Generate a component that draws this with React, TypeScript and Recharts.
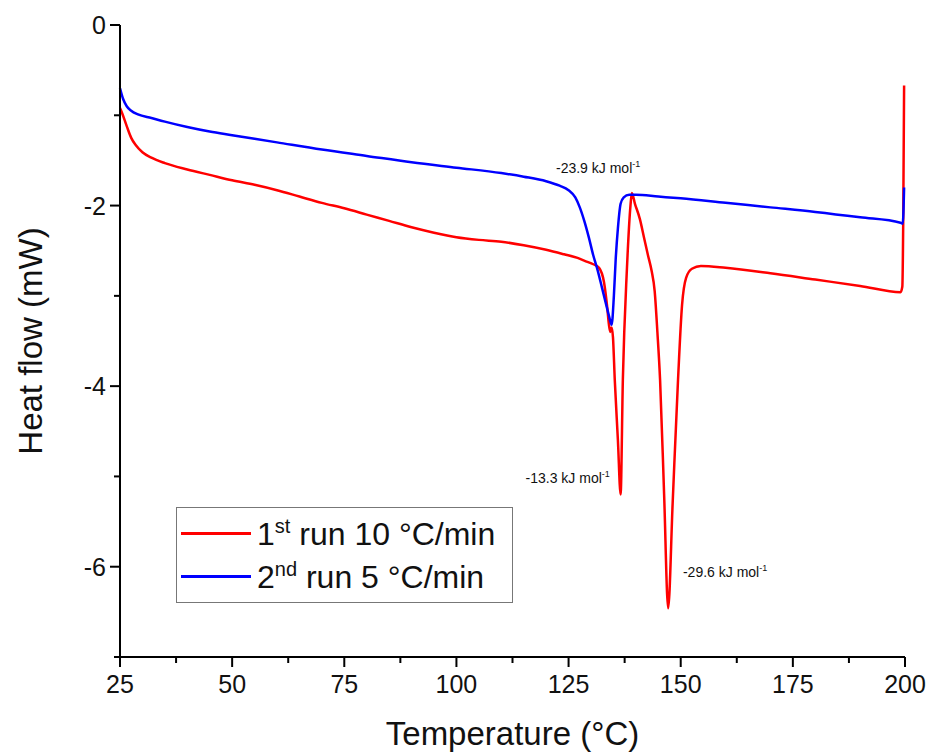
import { LineChart, Line, XAxis, YAxis, Legend, ReferenceDot } from 'recharts';

// 1st run, 10 °C/min
const redT = [
  25, 25.5, 26.5, 27.5, 28.5, 30, 32, 35, 40, 45, 50, 55, 60, 65, 70, 75, 80, 85, 90, 95,
  100, 105, 110, 115, 120, 124, 127, 129, 130.5, 131.8, 132.9, 133.6, 134.0, 134.3, 134.6, 134.9,
  135.3, 136.0, 136.6, 137.1, 138.0, 138.8, 139.1, 139.8, 140.9, 141.8, 142.7, 143.5, 144.2, 144.8,
  145.4, 146.3, 147.2, 148.2, 149.4, 150.3, 151.2, 152.5, 154.5, 160, 170, 180, 190, 199.0, 199.4,
  199.6, 199.8,
];
const redHF = [
  -0.92, -0.98, -1.12, -1.25, -1.33, -1.41, -1.47, -1.53, -1.6, -1.66, -1.72, -1.77, -1.83, -1.9, -1.97, -2.03, -2.1, -2.17, -2.24, -2.3,
  -2.35, -2.38, -2.4, -2.44, -2.49, -2.54, -2.58, -2.62, -2.65, -2.69, -2.85, -3.12, -3.32, -3.4, -3.35, -3.46,
  -3.93, -4.6, -5.2, -3.93, -2.71, -2.0, -1.86, -1.98, -2.15, -2.35, -2.55, -2.72, -2.95, -3.4,
  -3.93, -5.2, -6.46, -5.3, -3.93, -3.1, -2.8, -2.7, -2.67, -2.69, -2.75, -2.82, -2.89, -2.96, -2.9,
  -2.2, -0.67,
];

// 2nd run, 5 °C/min
const blueT = [
  25, 25.7, 26.5, 27.5, 29, 32, 35, 40, 45, 50, 60, 70, 80, 90, 100, 110, 115, 120, 123, 125,
  126.5, 127.5, 128.5, 129.5, 130.5, 131.5, 132.5, 133.3, 134.0, 134.6, 135.1, 135.5, 136.0, 136.6,
  137.3, 138.5, 140, 145, 150, 160, 170, 180, 190, 199.0, 199.5, 199.8,
];
const blueHF = [
  -0.7, -0.82, -0.9, -0.95, -0.99, -1.03, -1.07, -1.13, -1.18, -1.22, -1.3, -1.38, -1.45, -1.52, -1.58, -1.64, -1.68, -1.73, -1.78, -1.83,
  -1.91, -2.02, -2.17, -2.35, -2.55, -2.72, -2.92, -3.08, -3.22, -3.32, -3.0, -2.6, -2.25, -1.98,
  -1.91, -1.88, -1.88, -1.9, -1.92, -1.97, -2.02, -2.07, -2.13, -2.19, -2.2, -1.8,
];

const seriesNames = ['1st run 10 °C/min', '2nd run 5 °C/min'];

// enthalpy labels
const annT = [122.2, 134.2, 150.5];
const annHF = [-1.64, -5.07, -6.11];
const annText = ['-23.9 kJ mol', '-13.3 kJ mol', '-29.6 kJ mol'];
const annAnchor = ['start', 'end', 'start'];

const xTicks = [25, 37.5, 50, 62.5, 75, 87.5, 100, 112.5, 125, 137.5, 150, 162.5, 175, 187.5, 200];
const yTicks = [0, -1, -2, -3, -4, -5, -6, -7];

const redData = redT.map((t, i) => ({ t, hf: redHF[i] }));
const blueData = blueT.map((t, i) => ({ t, hf: blueHF[i] }));

const FONT = '"Liberation Sans", Arial, sans-serif';

function XTick(props: any) {
  const { x, y, payload } = props;
  const major = payload.value % 25 === 0;
  return (
    <g>
      <line x1={x} x2={x} y1={y} y2={y + (major ? 10 : 6)} stroke="#000" strokeWidth={2} />
      {major && (
        <text x={x} y={y + 36} textAnchor="middle" fontSize={25} fontFamily={FONT} fill="#111">
          {payload.value}
        </text>
      )}
    </g>
  );
}

function YTick(props: any) {
  const { x, y, payload } = props;
  const major = payload.value % 2 === 0;
  return (
    <g>
      <line x1={x} x2={x - (major ? 10 : 6)} y1={y} y2={y} stroke="#000" strokeWidth={2} />
      {major && (
        <text x={x - 14} y={y + 9} textAnchor="end" fontSize={25} fontFamily={FONT} fill="#111">
          {payload.value}
        </text>
      )}
    </g>
  );
}

function YTitle(props: any) {
  const vb = props.viewBox;
  const cx = vb.x + 30;
  const cy = vb.y + vb.height / 2;
  return (
    <text x={cx} y={cy} transform={`rotate(-90, ${cx}, ${cy})`} textAnchor="middle"
      dominantBaseline="central" fontSize={33} fontFamily={FONT} fill="#111">
      Heat flow (mW)
    </text>
  );
}

function AnnLabel(props: any) {
  const { viewBox, text, anchor } = props;
  return (
    <text x={viewBox.x} y={viewBox.y} textAnchor={anchor} fontSize={14} fontFamily={FONT} fill="#111">
      {text}
      <tspan dy={-6} fontSize={9}>-1</tspan>
    </text>
  );
}

function LegendBox(props: any) {
  const payload = props.payload || [];
  return (
    <div style={{ border: '1.5px solid #777', background: '#fff', padding: '4px 0', width: 335, fontFamily: FONT }}>
      {payload.map((p: any, i: number) => {
        const name = seriesNames[i];
        const head = name.slice(0, 1);
        const sup = i === 0 ? 'st' : 'nd';
        const rest = name.slice(3);
        return (
          <div key={i} style={{ display: 'flex', alignItems: 'center', height: 43 }}>
            <div style={{ width: 70, height: 3, background: p.color, marginLeft: 4, marginRight: 6 }} />
            <span style={{ fontSize: 32, color: '#111', whiteSpace: 'nowrap', lineHeight: '34px' }}>
              {head}
              <sup style={{ fontSize: 20, lineHeight: 0 }}>{sup}</sup>
              {rest}
            </span>
          </div>
        );
      })}
    </div>
  );
}

export default function App() {
  return (
    <div style={{ position: 'absolute', left: 0, top: 0, width: 930, height: 754, background: '#fff' }}>
      <LineChart width={930} height={754} margin={{ top: 25, right: 25, bottom: 0, left: 0 }}>
        <XAxis
          type="number"
          dataKey="t"
          domain={[25, 200]}
          ticks={xTicks}
          interval={0}
          height={97}
          tickSize={0}
          tickMargin={0}
          tickLine={false}
          tick={<XTick />}
          axisLine={{ stroke: '#000', strokeWidth: 2 }}
          allowDuplicatedCategory={false}
          label={{ value: 'Temperature (°C)', position: 'insideBottom', offset: 9, fontSize: 33, fontFamily: FONT, fill: '#111' }}
        />
        <YAxis
          type="number"
          domain={[-7, 0]}
          ticks={yTicks}
          interval={0}
          width={120}
          tickSize={0}
          tickMargin={0}
          tickLine={false}
          tick={<YTick />}
          axisLine={{ stroke: '#000', strokeWidth: 2 }}
          label={{ content: <YTitle /> }}
        />
        <Line data={redData} dataKey="hf" name={seriesNames[0]} type="monotone" stroke="#ff0000"
          strokeWidth={2.5} dot={false} isAnimationActive={false} />
        <Line data={blueData} dataKey="hf" name={seriesNames[1]} type="monotone" stroke="#0000ff"
          strokeWidth={2.5} dot={false} isAnimationActive={false} />
        {annT.map((t, i) => (
          <ReferenceDot key={i} x={t} y={annHF[i]} r={0} fill="none" stroke="none"
            label={<AnnLabel text={annText[i]} anchor={annAnchor[i]} />} />
        ))}
        <Legend
          layout="vertical"
          align="center"
          verticalAlign="middle"
          content={<LegendBox />}
          wrapperStyle={{ position: 'absolute', left: 176, top: 507, width: 340 }}
        />
      </LineChart>
    </div>
  );
}
